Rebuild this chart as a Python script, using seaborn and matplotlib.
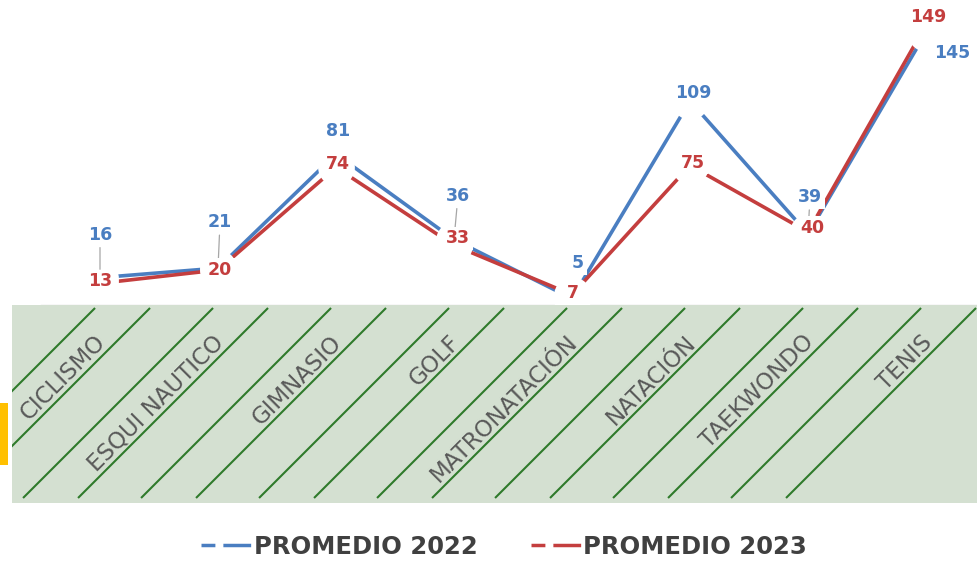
import numpy as np
import pandas as pd
import matplotlib
matplotlib.use('Agg')
import matplotlib.pyplot as plt
import seaborn as sns
from matplotlib.patches import Rectangle
from matplotlib.lines import Line2D

# datos
categorias = ['CICLISMO', 'ESQUI NAUTICO', 'GIMNASIO', 'GOLF',
              'MATRONATACIÓN', 'NATACIÓN', 'TAEKWONDO', 'TENIS']
promedio_2022 = [16, 21, 81, 36, 5, 109, 39, 145]
promedio_2023 = [13, 20, 74, 33, 7, 75, 40, 149]
series = ['PROMEDIO 2022', 'PROMEDIO 2023']

AZUL = '#4A7EC1'
ROJO = '#C43E3E'
GRIS = '#595959'

# posicion de las etiquetas (pixeles respecto al punto)
off_2022 = [(0, 43), (2, 46), (2, 23), (4, 44), (6, 35), (3, 8), (2, 37), (26, -21)]
off_2023 = [(0, 2), (2, 0), (2, 3), (4, 7), (1, 2), (3, 3), (4, 4), (2, 8)]
guia_2022 = [True, True, False, True, False, False, True, False]

df = pd.DataFrame({
    'categoria': categorias * 2,
    'valor': promedio_2022 + promedio_2023,
    'serie': [series[0]] * len(categorias) + [series[1]] * len(categorias),
})

sns.set_style('white')
plt.rcParams['font.family'] = ['DejaVu Sans']

W, H = 977, 564
fig = plt.figure(figsize=(W / 100, H / 100), dpi=100)

# eje principal (lineas)
ax = fig.add_axes([41 / W, (H - 305) / H, 944 / W, 305 / H])
sns.lineplot(data=df, x='categoria', y='valor', hue='serie', sort=False,
             palette=[AZUL, ROJO], linewidth=2.6, legend=False, ax=ax)
# huecos blancos alrededor de cada punto (como las etiquetas de Excel)
sns.scatterplot(data=df, x='categoria', y='valor', color='white', s=700,
                linewidth=0, legend=False, ax=ax, zorder=4)
ax.set_xlim(-0.5, 7.5)
ax.set_ylim(3 / 1.9, 308 / 1.9)
ax.set_xticks([])
ax.set_yticks([])
ax.set_xlabel('')
ax.set_ylabel('')
for s in ['top', 'left', 'right']:
    ax.spines[s].set_visible(False)
ax.spines['bottom'].set_color('#d9d9d9')
ax.spines['bottom'].set_linewidth(1)
ax.set_facecolor('none')

caja = dict(boxstyle='square,pad=0.15', fc='white', ec='none')
for vals, offs, col, guias in [(promedio_2022, off_2022, AZUL, guia_2022),
                               (promedio_2023, off_2023, ROJO, [False] * 8)]:
    for i, v in enumerate(vals):
        arrow = None
        if guias[i]:
            arrow = dict(arrowstyle='-', color='#a6a6a6', lw=0.9,
                         shrinkA=1, shrinkB=6)
        ax.annotate(str(v), xy=(i, v), xytext=offs[i], textcoords='offset pixels',
                    ha='center', va='center', color=col, fontsize=12.5,
                    fontweight='bold', bbox=caja, arrowprops=arrow, zorder=6)

# franja verde con rayas y nombres de categoria
axg = fig.add_axes([12 / W, (H - 503) / H, 965 / W, 198 / H])
x0 = (12 - 41) / 118 - 0.5
x1 = (977 - 41) / 118 - 0.5
axg.set_xlim(x0, x1)
axg.set_ylim(198, 0)
axg.axis('off')
axg.add_patch(Rectangle((x0, 0), x1 - x0, 198, fc='#D4E0D1', ec='none', zorder=0))
for i in range(len(categorias)):
    for d in (-0.042, 0.424):
        axg.plot([i + d, i + d - 190 / 118], [3, 193], color='#2F7A2B', lw=1.5,
                 solid_capstyle='butt', zorder=1)
    axg.text(i + 0.02, 34, categorias[i], rotation=45, rotation_mode='anchor',
             ha='right', va='center', color=GRIS, fontsize=16.5, zorder=2)

# barra amarilla a la izquierda
fig.patches.append(Rectangle((0, (H - 465) / H), 8 / W, 62 / H, fc='#FFC000', ec='none',
                             transform=fig.transFigure, figure=fig))

# leyenda
manijas = [Line2D([], [], color=AZUL, lw=2.5, dashes=(4.0, 2.3, 8.0, 20)),
           Line2D([], [], color=ROJO, lw=2.5, dashes=(4.0, 2.3, 8.0, 20))]
fig.legend(manijas, series, loc='center', bbox_to_anchor=(504 / W, 17 / H), ncol=2,
           frameon=False, prop={'weight': 'bold', 'size': 17.5}, labelcolor='#404040',
           handlelength=2.06, handletextpad=0.1, columnspacing=2.2)

fig.savefig('out.png', dpi=100)
